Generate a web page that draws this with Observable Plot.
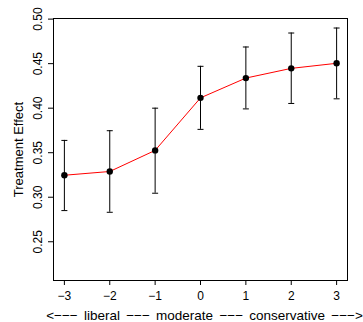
<!DOCTYPE html>
<html>
<head>
<meta charset="utf-8">
<script src="https://cdn.jsdelivr.net/npm/d3@7"></script>
<script src="https://cdn.jsdelivr.net/npm/@observablehq/plot@0.6"></script>
<style>
  body { margin: 0; background: #fff; }
  svg { font-family: "Liberation Sans", Arial, Helvetica, sans-serif; }
</style>
</head>
<body>
<div id="chart"></div>
<script>
const ideology = [-3, -2, -1, 0, 1, 2, 3];
const effect = [0.3247, 0.3289, 0.3526, 0.4116, 0.4338, 0.4447, 0.4504];
const lower = [0.2850, 0.2831, 0.3045, 0.3762, 0.3992, 0.4053, 0.4105];
const upper = [0.3638, 0.3747, 0.4000, 0.4470, 0.4687, 0.4844, 0.4900];
const xTicks = [-3, -2, -1, 0, 1, 2, 3];
const yTicks = [0.25, 0.30, 0.35, 0.40, 0.45, 0.50];
const yLabel = "Treatment Effect";
const xLabel = "<\u2212\u2212\u2212 liberal \u2212\u2212\u2212 moderate \u2212\u2212\u2212 conservative \u2212\u2212\u2212>";

const data = ideology.map((x, i) => ({x, y: effect[i], lo: lower[i], hi: upper[i]}));

const capSymbol = {
  draw(ctx, size) { ctx.moveTo(-3, 0); ctx.lineTo(3, 0); }
};

const chart = Plot.plot({
  width: 363,
  height: 322,
  marginLeft: 53,
  marginTop: 18,
  marginRight: 16,
  marginBottom: 42,
  style: {fontSize: "12px", fontFamily: "'Liberation Sans', Arial, sans-serif", background: "#fff"},
  x: {domain: [-3.24, 3.24]},
  y: {domain: [0.2065, 0.5007]},
  marks: [
    Plot.axisX({ticks: xTicks, tickSize: 5, tickPadding: 5.5, tickFormat: d => d < 0 ? "\u2212" + Math.abs(d) : String(d), label: null, fill: "#000", stroke: "#000", fontSize: 12}),
    Plot.axisY({ticks: yTicks, tickSize: 5, tickFormat: () => "", label: null, stroke: "#000"}),
    Plot.text(yTicks, {y: d => d, text: d => d.toFixed(2), frameAnchor: "left", rotate: -90, dx: -11.5, textAnchor: "middle", lineAnchor: "bottom", fill: "#000", fontSize: 12}),
    Plot.text([yLabel], {frameAnchor: "left", rotate: -90, dx: -30.5, textAnchor: "middle", lineAnchor: "bottom", fill: "#000", fontSize: 13}),
    Plot.text([xLabel], {frameAnchor: "bottom", dy: 39, dx: 4, textAnchor: "middle", lineAnchor: "bottom", fill: "#000", fontSize: 13.5}),
    Plot.frame({stroke: "#000", strokeWidth: 1}),
    Plot.line(data, {x: "x", y: "y", stroke: "#ff0000", strokeWidth: 1}),
    Plot.ruleX(data, {x: "x", y1: "lo", y2: "hi", stroke: "#000", strokeWidth: 1}),
    Plot.dot(data, {x: "x", y: "lo", symbol: capSymbol, stroke: "#000", fill: "none", strokeWidth: 1}),
    Plot.dot(data, {x: "x", y: "hi", symbol: capSymbol, stroke: "#000", fill: "none", strokeWidth: 1}),
    Plot.dot(data, {x: "x", y: "y", r: 3.2, fill: "#000", stroke: "none"})
  ]
});
d3.select(chart).selectAll("text")
  .filter(function() { return this.textContent === xLabel; })
  .attr("word-spacing", "2.5px");
document.getElementById("chart").appendChild(chart);
</script>
</body>
</html>
